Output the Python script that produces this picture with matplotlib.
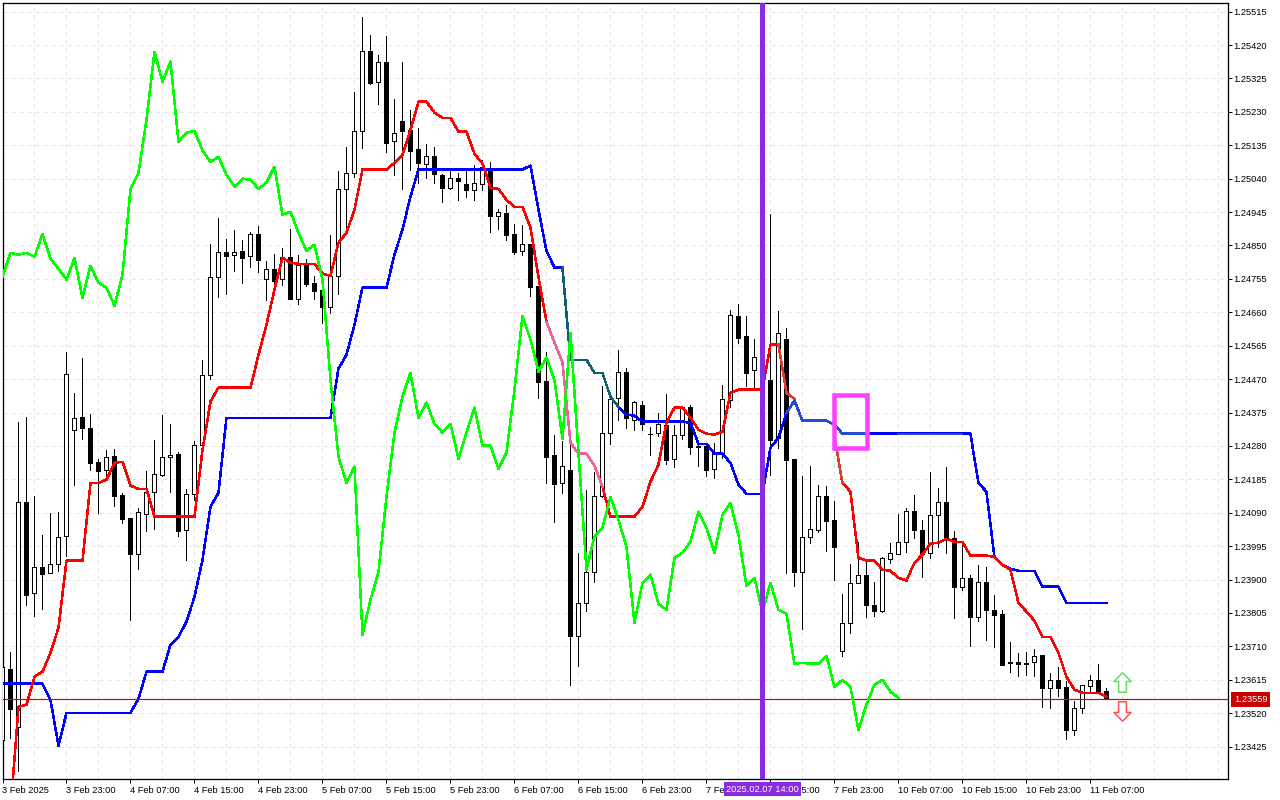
import numpy as np
import matplotlib
matplotlib.use('Agg')
import matplotlib.pyplot as plt
from matplotlib.patches import Rectangle

nan = float('nan')

# all prices in 1e-5 units, hourly bars from 3 Feb 2025 15:00
opens = [123444,123647,123481,124121,123863,123936,123919,123945,124025,124326,
         124363,124332,124235,124212,124252,124141,124076,123973,124087,124150,
         124198,124249,124258,124042,124144,124283,124483,124761,124832,124824,
         124835,124821,124883,124756,124784,124756,124818,124699,124795,124744,
         124724,124676,124764,125011,125057,125176,125404,125316,125373,125148,
         125205,125179,125125,125083,125105,125051,125014,125043,125026,125009,
         125026,125071,124935,124943,124883,124835,124855,124736,124465,124255,
         124175,124212,123740,123834,123922,124138,124318,124417,124491,124355,
         124397,124315,124318,124340,124244,124312,124391,124281,124281,124215,
         124261,124411,124650,124593,124497,124525,124468,124303,124585,124244,
         123922,124022,124042,124138,124070,123698,123777,123891,123914,123828,
         123811,123959,123973,124007,124096,124042,123976,124084,124121,124019,
         123880,123905,123794,123894,123814,123803,123666,123666,123663,123666,
         123686,123592,123615,123595,123473,123535,123598,123615,123584]
highs = [123701,123695,124349,124363,124138,124027,124090,124093,124548,124431,
         124531,124372,124244,124269,124272,124147,124076,124104,124210,124298,
         124369,124343,124264,124158,124295,124525,124855,124929,124869,124895,
         124866,124889,124906,124807,124827,124844,124898,124824,124812,124764,
         124724,124881,125063,125131,125287,125501,125449,125393,125447,125267,
         125373,125236,125185,125139,125131,125054,125066,125057,125066,125080,
         125094,125088,124955,124966,124912,124909,124855,124736,124548,124312,
         124295,124283,123976,124155,124207,124451,124434,124554,124502,124409,
         124409,124335,124374,124428,124340,124394,124397,124289,124289,124289,
         124454,124667,124684,124650,124585,124554,124940,124665,124616,124244,
         124195,124224,124170,124167,124124,123860,123945,124007,123951,123894,
         123965,124005,124087,124104,124141,124070,124207,124161,124221,124039,
         124010,123914,123942,123936,123857,123814,123723,123692,123695,123703,
         123686,123635,123652,123612,123555,123601,123629,123661,123592]
lows = [123345,123450,123356,123828,123797,123817,123919,123925,123968,124170,
        124300,124212,124090,124190,124110,124062,123786,123931,124039,124045,
        124195,124150,124025,123956,124127,124283,124471,124704,124713,124778,
        124744,124790,124775,124696,124744,124738,124699,124684,124736,124699,
        124630,124659,124713,124895,125046,125128,125310,125253,125117,125051,
        125011,125066,125029,125043,125029,124975,125011,124980,124989,124980,
        125009,124889,124898,124866,124827,124824,124707,124417,124175,124064,
        124147,123601,123655,123811,123894,124135,124286,124355,124332,124326,
        124326,124255,124309,124229,124221,124300,124258,124224,124195,124190,
        124246,124391,124574,124451,124448,124426,124198,124275,123919,123882,
        123760,124005,124036,123982,123899,123683,123749,123891,123794,123797,
        123809,123948,123973,123979,124019,123908,123962,123993,123976,123791,
        123871,123712,123783,123729,123709,123658,123638,123626,123629,123626,
        123538,123535,123570,123447,123459,123521,123578,123578,123559]
closes = [123650,123532,124121,123857,123936,123917,123945,124022,124485,124360,
          124332,124232,124210,124249,124138,124073,123973,124093,124150,124201,
          124249,124255,124039,124144,124283,124483,124761,124832,124821,124832,
          124815,124883,124810,124784,124750,124818,124699,124795,124741,124721,
          124676,124764,125011,125057,125176,125404,125313,125373,125142,125171,
          125176,125120,125085,125105,125054,125014,125043,125034,125009,125029,
          125074,124935,124946,124881,124832,124855,124733,124463,124249,124173,
          124224,123740,123834,123922,124138,124318,124414,124491,124360,124406,
          124343,124313,124343,124241,124312,124391,124278,124278,124212,124261,
          124414,124653,124588,124488,124534,124454,124298,124602,124241,123922,
          124022,124045,124138,124067,123993,123777,123891,123914,123828,123811,
          123962,123976,124007,124096,124042,123973,124084,124121,124019,123880,
          123905,123794,123894,123814,123800,123658,123663,123661,123661,123683,
          123592,123615,123592,123473,123535,123601,123615,123578,123559]

red_line = [nan,123245,123538,123544,123624,123638,123692,123763,123954,123954,
            123954,124175,124175,124184,124232,124235,124167,124158,124158,124079,
            124079,124079,124079,124079,124079,124269,124406,124446,124446,124446,
            124446,124446,124539,124625,124724,124815,124801,124798,124798,124798,
            124770,124764,124858,124886,124952,125066,125066,125066,125066,125085,
            125108,125179,125259,125259,125228,125213,125213,125174,125174,125111,
            125083,125014,125011,124980,124960,124960,124901,124761,124633,124574,
            124517,124289,124258,124258,124224,124164,124079,124079,124079,124079,
            124107,124178,124227,124346,124389,124389,124360,124326,124315,124312,
            124320,124431,124440,124440,124440,124440,124568,124568,124431,124414,
            nan,nan,nan,nan,124306,124175,124150,123962,123954,123954,
            123928,123925,123905,123897,123948,123971,124002,124005,124016,124007,
            124007,123968,123968,123968,123965,123942,123928,123834,123809,123783,
            123737,123737,123692,123624,123587,123578,123578,123578,123567]
blue_line = [123604,123604,123604,123604,123604,123604,123558,123427,123521,123521,
             123521,123521,123521,123521,123521,123521,123521,123561,123638,123638,
             123638,123715,123737,123780,123851,123956,124107,124147,124360,124360,
             124360,124360,124360,124360,124360,124360,124360,124360,124360,124360,
             124360,124360,124500,124539,124625,124730,124730,124730,124730,124824,
             124895,124989,125066,125066,125066,125066,125066,125066,125066,125066,
             125066,125066,125066,125066,125066,125066,125077,124952,124835,124787,
             124787,124525,124525,124525,124488,124488,124420,124391,124369,124366,
             124349,124349,124349,124349,124349,124349,124346,124286,124286,124258,
             124258,124232,124170,124144,124144,124144,124275,124303,124374,124409,
             124352,124352,124352,124352,124340,124315,124315,124315,124315,124315,
             124315,124315,124315,124315,124315,124315,124315,124315,124315,124315,
             124315,124315,124175,124150,123965,123942,123931,123925,123925,123925,
             123880,123880,123880,123834,123834,123834,123834,123834,123834]
green_line = [124761,124829,124824,124829,124818,124883,124812,124784,124753,124815,
              124701,124792,124744,124730,124679,124767,125011,125057,125208,125401,
              125316,125373,125145,125171,125176,125120,125088,125102,125051,125017,
              125040,125037,125011,125029,125074,124938,124946,124886,124835,124852,
              124753,124468,124249,124175,124221,123743,123843,123922,124135,124318,
              124420,124488,124360,124403,124343,124318,124343,124244,124318,124389,
              124281,124281,124215,124261,124440,124650,124582,124491,124531,124468,
              124300,124602,124261,123928,124022,124047,124135,124070,123993,123777,
              123891,123914,123831,123814,123962,123976,124007,124093,124047,123976,
              124084,124118,124027,123882,123905,123806,123891,123814,123803,123661,
              123663,123661,123661,123683,123595,123615,123595,123473,123544,123601,
              123615,123581,123564]

# stretches where the terminal shows the line in another shade
red_shades = [(68, 75, '#f0609a'), (97, 99, '#d84030'), (104, 105, '#d84030')]
blue_shades = [(70, 77, '#106070'), (98, 108, '#2a48d8'), (112, 120, '#2a48d8')]

time_labels = ['3 Feb 2025', '3 Feb 23:00', '4 Feb 07:00', '4 Feb 15:00', '4 Feb 23:00',
               '5 Feb 07:00', '5 Feb 15:00', '5 Feb 23:00', '6 Feb 07:00', '6 Feb 15:00',
               '6 Feb 23:00', '7 Feb 07:00', '7 Feb 15:00', '7 Feb 23:00', '10 Feb 07:00',
               '10 Feb 15:00', '10 Feb 23:00', '11 Feb 07:00']
price_ticks = [123425 + 95 * k for k in range(23)]

last_price = 123559
marked_bar = 95
marked_label = '2025.02.07 14:00'
box_bars = (104.0, 108.05)
box_prices = (124275, 124426)
up_arrow = (140.0, 123608)
down_arrow = (140.0, 123526)

SCALE = 1e5
PX = 0.72  # one pixel in points at dpi 100
LINE_W = 1.5 * PX  # comes out about 2 px with antialiasing off

plt.rcParams['font.family'] = ['Liberation Sans', 'DejaVu Sans']
plt.rcParams['font.size'] = 6.7

fig = plt.figure(figsize=(12.8, 8), dpi=100)
ax = fig.add_axes([2.5 / 1280, 1 - 779.3 / 800, 1225.5 / 1280, 776.8 / 800])

bars = np.arange(len(opens))
o = np.array(opens) / SCALE
h = np.array(highs) / SCALE
l = np.array(lows) / SCALE
c = np.array(closes) / SCALE

ax.set_xlim(0.02, 153.2)
ax.set_ylim(123332 / SCALE, 125541 / SCALE)

# grid
ax.set_xticks(np.arange(0, 154, 4), minor=True)
ax.set_xticks(np.arange(len(time_labels)) * 8)
ax.set_xticklabels(time_labels, ha='left')
ax.set_yticks(np.array(price_ticks) / SCALE)
ax.set_yticklabels([f'{p / SCALE:.5f}' for p in price_ticks])
ax.yaxis.tick_right()
ax.grid(True, which='both', color='#e4e4e4', lw=PX, ls=(0, (4, 4)))
ax.set_axisbelow(True)
ax.tick_params(axis='x', which='minor', length=0)
ax.tick_params(axis='x', which='major', length=3, width=PX, pad=1.5, color='black')
ax.tick_params(axis='y', which='major', length=3, width=PX, pad=1, color='black')
for spine in ax.spines.values():
    spine.set_linewidth(PX * 1.3)

# candles
ax.vlines(bars, l, h, color='black', lw=PX, antialiased=False, zorder=2)
up = c >= o
ax.bar(bars, np.abs(c - o), bottom=np.minimum(o, c), width=0.5,
       color=['white' if u else 'black' for u in up], edgecolor='black', lw=PX,
       antialiased=False, zorder=3)

# indicator lines
red = np.array(red_line) / SCALE
blue = np.array(blue_line) / SCALE
green = np.array(green_line) / SCALE
ax.plot(bars, blue, color='#0000ff', lw=LINE_W, zorder=4, antialiased=False)
ax.plot(bars, red, color='#ff0000', lw=LINE_W, zorder=4, antialiased=False)
ax.plot(np.arange(len(green)), green, color='#00ff00', lw=LINE_W, zorder=5, antialiased=False)
for start, end, shade in blue_shades:
    ax.plot(bars[start:end + 1], blue[start:end + 1], color=shade, lw=LINE_W, zorder=4, antialiased=False)
for start, end, shade in red_shades:
    ax.plot(bars[start:end + 1], red[start:end + 1], color=shade, lw=LINE_W, zorder=4, antialiased=False)

# last price line and label
ax.axhline(last_price / SCALE, color='#e00000', lw=1.2 * PX, zorder=4.5)
ax.annotate(f'{last_price / SCALE:.5f}', xy=(1, last_price / SCALE),
            xycoords=('axes fraction', 'data'), xytext=(6, 0), textcoords='offset pixels',
            va='center', ha='left', color='white', zorder=10, annotation_clip=False,
            bbox=dict(boxstyle='square,pad=0.3', fc='#c80000', ec='#c80000', lw=0))

# marked bar
ax.axvline(marked_bar, color='#8a2be2', lw=5 * PX, zorder=7, antialiased=False)
ax.annotate(marked_label, xy=(marked_bar, 0), xycoords=('data', 'axes fraction'),
            xytext=(0, -7), textcoords='offset points', ha='center', va='center', color='white',
            zorder=10, annotation_clip=False,
            bbox=dict(boxstyle='square,pad=0.22', fc='#8a2be2', ec='#8a2be2', lw=0))

# pink box
ax.add_patch(Rectangle((box_bars[0], box_prices[0] / SCALE), box_bars[1] - box_bars[0],
                       (box_prices[1] - box_prices[0]) / SCALE, fill=False,
                       ec='#ff40ff', lw=4.5 * PX, zorder=6, joinstyle='miter'))

# buy / sell arrows
arrow_up = [(0, 1), (0.88, 0.1), (0.4, 0.1), (0.4, -1), (-0.4, -1), (-0.4, 0.1), (-0.88, 0.1), (0, 1)]
arrow_down = [(x, -y) for x, y in arrow_up]
ax.plot(up_arrow[0], up_arrow[1] / SCALE, marker=arrow_up, ms=14, mfc='white',
        mec='#60dd60', mew=1.5 * PX, zorder=6)
ax.plot(down_arrow[0], down_arrow[1] / SCALE, marker=arrow_down, ms=14, mfc='white',
        mec='#ff5050', mew=1.5 * PX, zorder=6)

fig.savefig('out.png', dpi=100)
